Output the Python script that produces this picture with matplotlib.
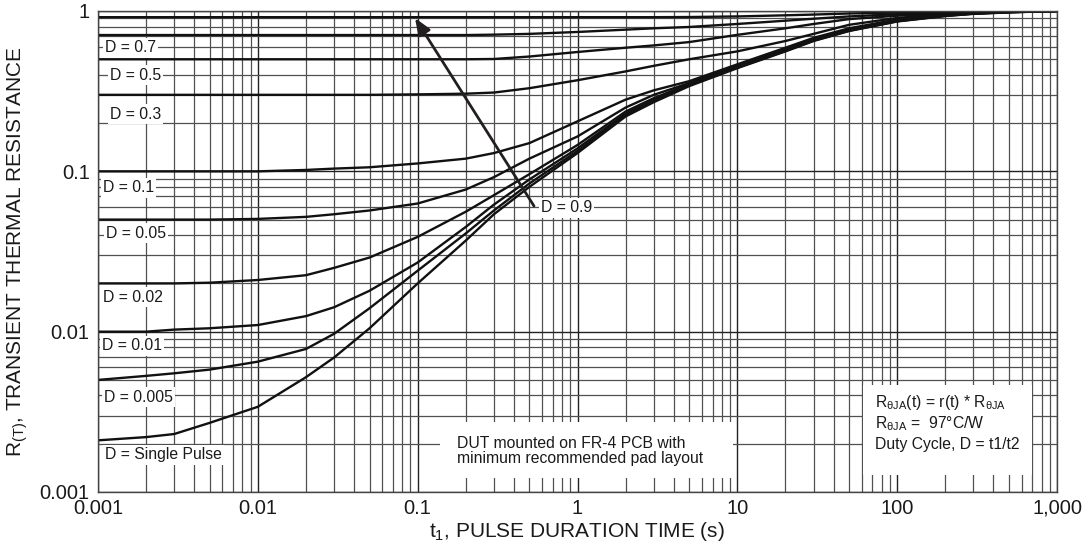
import matplotlib
matplotlib.use('Agg')
import matplotlib.pyplot as plt
from matplotlib.ticker import FixedLocator, FixedFormatter, LogLocator, NullFormatter
from matplotlib.patches import Rectangle

plt.rcParams['font.family'] = ['Liberation Sans', 'DejaVu Sans']
plt.rcParams['mathtext.fontset'] = 'custom'
plt.rcParams['mathtext.rm'] = 'Liberation Sans'
plt.rcParams['mathtext.it'] = 'Liberation Sans:italic'

# ---------------- data ----------------
t_pulse = [0.001, 0.002, 0.003, 0.005, 0.01, 0.02, 0.03, 0.05, 0.1, 0.2, 0.3, 0.5,
           1, 2, 3, 5, 10, 20, 30, 50, 100, 200, 300, 500, 1000]

r_d09 = [0.915, 0.915, 0.915, 0.915, 0.915, 0.915, 0.915, 0.915, 0.915, 0.915, 0.915, 0.915,
         0.915, 0.915, 0.915, 0.917, 0.925, 0.94, 0.95, 0.965, 0.978, 0.988, 0.993, 0.997, 1.0]
r_d07 = [0.708, 0.708, 0.708, 0.708, 0.708, 0.708, 0.708, 0.708, 0.708, 0.708, 0.712, 0.72,
         0.74, 0.765, 0.78, 0.795, 0.83, 0.87, 0.895, 0.925, 0.955, 0.978, 0.988, 0.995, 1.0]
r_d05 = [0.5, 0.5, 0.5, 0.5, 0.5, 0.5, 0.5, 0.5, 0.5, 0.5, 0.502, 0.52,
         0.555, 0.59, 0.61, 0.64, 0.71, 0.78, 0.83, 0.89, 0.935, 0.968, 0.982, 0.993, 1.0]
r_d03 = [0.30, 0.30, 0.30, 0.30, 0.30, 0.30, 0.30, 0.30, 0.302, 0.305, 0.31, 0.33,
         0.37, 0.42, 0.455, 0.50, 0.56, 0.65, 0.72, 0.82, 0.905, 0.958, 0.978, 0.992, 1.0]
r_d01 = [0.1, 0.1, 0.1, 0.1, 0.1, 0.102, 0.104, 0.106, 0.112, 0.12, 0.13, 0.15,
         0.205, 0.28, 0.32, 0.365, 0.465, 0.59, 0.68, 0.78, 0.885, 0.95, 0.973, 0.99, 1.0]
r_d005 = [0.050, 0.050, 0.050, 0.050, 0.0505, 0.052, 0.054, 0.057, 0.063, 0.077, 0.092, 0.12,
          0.165, 0.25, 0.30, 0.355, 0.457, 0.58, 0.67, 0.77, 0.877, 0.945, 0.97, 0.987, 1.0]
r_d002 = [0.020, 0.020, 0.020, 0.0202, 0.021, 0.0225, 0.025, 0.029, 0.039, 0.056, 0.071, 0.096,
          0.146, 0.236, 0.286, 0.350, 0.452, 0.573, 0.662, 0.762, 0.872, 0.94, 0.966, 0.985, 1.0]
r_d001 = [0.0100, 0.0100, 0.0103, 0.0105, 0.0110, 0.0125, 0.0142, 0.018, 0.027, 0.045, 0.062, 0.089,
          0.139, 0.229, 0.279, 0.347, 0.448, 0.567, 0.657, 0.757, 0.867, 0.936, 0.964, 0.984, 1.0]
r_d0005 = [0.0050, 0.0053, 0.0055, 0.0058, 0.0065, 0.0078, 0.0097, 0.0140, 0.024, 0.041, 0.057, 0.084,
           0.134, 0.224, 0.274, 0.344, 0.444, 0.563, 0.653, 0.753, 0.863, 0.933, 0.962, 0.982, 1.0]
r_single = [0.0021, 0.0022, 0.0023, 0.0027, 0.0034, 0.0052, 0.0069, 0.0105, 0.020, 0.037, 0.054, 0.080,
            0.13, 0.22, 0.27, 0.34, 0.44, 0.56, 0.65, 0.75, 0.86, 0.93, 0.96, 0.98, 1.0]

series = [r_d09, r_d07, r_d05, r_d03, r_d01, r_d005, r_d002, r_d001, r_d0005, r_single]

curve_labels = ["D = 0.7", "D = 0.5", "D = 0.3", "D = 0.1", "D = 0.05",
                "D = 0.02", "D = 0.01", "D = 0.005", "D = Single Pulse"]
x_ticks = [0.001, 0.01, 0.1, 1, 10, 100, 1000]
x_tick_labels = ["0.001", "0.01", "0.1", "1", "10", "100", "1,000"]
y_ticks = [0.001, 0.01, 0.1, 1]
y_tick_labels = ["0.001", "0.01", "0.1", "1"]

# ---------------- figure ----------------
W, H = 1083, 552
fig = plt.figure(figsize=(W / 100, H / 100), dpi=100)
L, R, T, B = 98, 1057, 11, 492
ax = fig.add_axes([L / W, 1 - B / H, (R - L) / W, (B - T) / H])

def fx(px):
    return (px - L) / (R - L)

def fy(py):
    return 1 - (py - T) / (B - T)

ax.set_xscale('log')
ax.set_yscale('log')
ax.set_xlim(0.001, 1000)
ax.set_ylim(0.001, 1.0)

ax.xaxis.set_major_locator(FixedLocator(x_ticks))
ax.xaxis.set_major_formatter(FixedFormatter(x_tick_labels))
ax.yaxis.set_major_locator(FixedLocator(y_ticks))
ax.yaxis.set_major_formatter(FixedFormatter(y_tick_labels))
ax.xaxis.set_minor_locator(LogLocator(base=10, subs=range(2, 10), numticks=20))
ax.yaxis.set_minor_locator(LogLocator(base=10, subs=range(2, 10), numticks=20))
ax.xaxis.set_minor_formatter(NullFormatter())
ax.yaxis.set_minor_formatter(NullFormatter())
ax.tick_params(which='both', length=0, labelsize=14.5, colors='#1a1a1a')
ax.tick_params(axis='x', pad=5)
ax.tick_params(axis='y', pad=6)

ax.set_axisbelow(True)
ax.grid(which='major', color='#222222', linewidth=1.0)
ax.grid(which='minor', color='#505050', linewidth=0.9)
for sp in ax.spines.values():
    sp.set_color('#444444')
    sp.set_linewidth(1.0)

for s in series:
    ax.plot(t_pulse, s, color='#111111', linewidth=1.7, zorder=2, solid_joinstyle='round')

# curve labels
label_px = [(105, 48), (110, 75), (110, 114), (103, 188), (106, 233),
            (103, 297), (102, 346), (104, 397), (105, 455)]
for txt, (px, py) in zip(curve_labels, label_px):
    ax.text(fx(px), fy(py), txt, transform=ax.transAxes, fontsize=11.3,
            ha='left', va='center', color='#1a1a1a', zorder=4,
            bbox=dict(facecolor='white', edgecolor='none', pad=1.5))

ax.text(fx(541), fy(208), "D = 0.9", transform=ax.transAxes, fontsize=11.3,
        ha='left', va='center', color='#1a1a1a', zorder=4,
        bbox=dict(facecolor='white', edgecolor='none', pad=1.5))

# arrow
ax.annotate("", xy=(fx(415), fy(18)), xytext=(fx(534), fy(206)),
            xycoords='axes fraction', textcoords='axes fraction',
            arrowprops=dict(arrowstyle='-|>,head_length=1.0,head_width=0.4',
                            color='#231f20', lw=2.0, shrinkA=0, shrinkB=0), zorder=5)

# DUT box
ax.add_patch(Rectangle((fx(440), fy(478)), fx(733) - fx(440), fy(422) - fy(478),
                       transform=ax.transAxes, facecolor='white', edgecolor='none', zorder=3))
ax.text(fx(457), fy(451), "DUT mounted on FR-4 PCB with\nminimum recommended pad layout",
        transform=ax.transAxes, fontsize=11.3, ha='left', va='center',
        color='#1a1a1a', zorder=4, linespacing=1.05)

# R theta box
ax.add_patch(Rectangle((fx(863), fy(475)), fx(1032) - fx(863), fy(385) - fy(475),
                       transform=ax.transAxes, facecolor='white', edgecolor='none', zorder=3))
r_lines = [r"R$_{\mathrm{θJA}}$(t) = r(t) * R$_{\mathrm{θJA}}$",
           r"R$_{\mathrm{θJA}}$ =  97°C/W",
           "Duty Cycle, D = t1/t2"]
for txt, py in zip(r_lines, [402, 424, 445]):
    ax.text(fx(875), fy(py), txt, transform=ax.transAxes, fontsize=11.3,
            ha='left', va='center', color='#1a1a1a', zorder=4)

ax.set_xlabel(r"t$_1$, PULSE DURATION TIME (s)", fontsize=15, color='#1a1a1a')
ax.set_ylabel(r"R$_{\mathrm{(T)}}$, TRANSIENT THERMAL RESISTANCE", fontsize=15, color='#1a1a1a')
ax.xaxis.set_label_coords(0.5, -0.058)
ax.yaxis.set_label_coords(-0.071, 0.5)

fig.savefig('out.png', dpi=100)
